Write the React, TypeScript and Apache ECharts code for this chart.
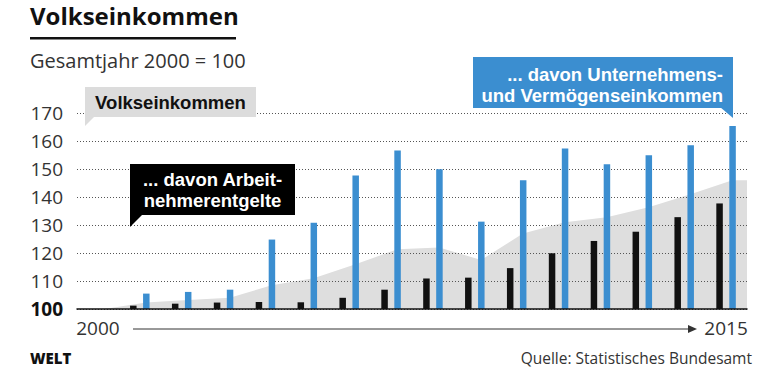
import { useEffect, useRef } from 'react';
import * as echarts from 'echarts';

const years = ['2000', '2001', '2002', '2003', '2004', '2005', '2006', '2007', '2008', '2009', '2010', '2011', '2012', '2013', '2014', '2015'];
const arbeitnehmerentgelte = [null, 101.2, 101.9, 102.3, 102.5, 102.4, 104.0, 106.9, 110.9, 111.2, 114.6, 119.9, 124.3, 127.6, 132.8, 137.7];
const unternehmenseinkommen = [null, 105.5, 106.1, 106.9, 124.8, 130.8, 147.7, 156.6, 149.9, 131.2, 146.0, 157.3, 151.7, 154.9, 158.5, 165.4];
const volkseinkommen = [100, 102.3, 103.2, 104.0, 108.5, 111.0, 116.0, 121.3, 122.0, 117.5, 127.0, 131.0, 132.8, 136.3, 141.0, 146.0];
const yMin = 100;
const yMax = 170;
const yInterval = 10;

const FONT = '"Open Sans", "Noto Sans", sans-serif';
const LABEL_FONT = '"Liberation Sans", Arial, sans-serif';
const BLUE = '#3b8ed0';

export default function App() {
  const ref = useRef<HTMLDivElement>(null);
  useEffect(() => {
    const chart = echarts.init(ref.current!, null, { renderer: 'svg' });
    const areaMin = 1999.35;
    const areaMax = 2015.35;
    const areaData: [number, number][] = volkseinkommen.map((v, i) => [Number(years[i]), v]);
    areaData.push([areaMax, volkseinkommen[volkseinkommen.length - 1]]);

    const label = (text: string, x: number, y: number, align: string, fill: string, size = 18.5) => ({
      type: 'text',
      x,
      y,
      z: 11,
      style: { text, font: `bold ${size}px ${LABEL_FONT}`, lineHeight: size, fill, textAlign: align, textVerticalAlign: 'middle' },
    });

    chart.setOption({
      animation: false,
      backgroundColor: '#fff',
      textStyle: { fontFamily: FONT },
      grid: { left: 77, right: 33, top: 113, bottom: 64 },
      xAxis: [
        {
          type: 'category',
          data: years,
          boundaryGap: true,
          axisLine: { show: true, lineStyle: { color: '#111', width: 1.5 } },
          axisTick: { show: false },
          splitLine: { show: false },
          axisLabel: {
            show: true,
            interval: (i: number) => i === 0 || i === years.length - 1,
            color: '#333',
            fontSize: 19,
            fontFamily: FONT,
            margin: 9,
          },
          z: 3,
        },
        {
          type: 'value',
          min: areaMin,
          max: areaMax,
          show: false,
          gridIndex: 0,
        },
      ],
      yAxis: {
        type: 'value',
        min: yMin,
        max: yMax,
        interval: yInterval,
        startValue: yMin,
        axisLine: { show: false },
        axisTick: { show: false },
        splitLine: { show: true, lineStyle: { color: '#555', width: 1, type: [1, 2] } },
        axisLabel: {
          margin: 14,
          formatter: (v: number) => (v === yMin ? `{b|${v}}` : `{n|${v}}`),
          rich: {
            n: { fontSize: 19, color: '#333', fontFamily: FONT },
            b: { fontSize: 19, color: '#111', fontWeight: 'bold', fontFamily: FONT },
          },
        },
      },
      series: [
        {
          name: 'Volkseinkommen',
          type: 'line',
          xAxisIndex: 1,
          yAxisIndex: 0,
          data: areaData,
          symbol: 'none',
          smooth: false,
          lineStyle: { width: 0, color: '#dedede' },
          areaStyle: { color: '#dedede', opacity: 1 },
          z: -1,
        },
        {
          name: 'Arbeitnehmerentgelte',
          type: 'bar',
          xAxisIndex: 0,
          data: arbeitnehmerentgelte,
          barWidth: 6.5,
          barGap: '100%',
          itemStyle: { color: '#111' },
        },
        {
          name: 'Unternehmens- und Vermögenseinkommen',
          type: 'bar',
          xAxisIndex: 0,
          data: unternehmenseinkommen,
          barWidth: 6.5,
          barGap: '100%',
          itemStyle: { color: BLUE },
        },
      ],
      graphic: [
        {
          type: 'text',
          left: 30,
          top: 3,
          style: { text: 'Volkseinkommen', font: `bold 24px ${FONT}`, fill: '#111' },
        },
        { type: 'rect', shape: { x: 30, y: 37, width: 206, height: 2.5 }, style: { fill: '#111' } },
        {
          type: 'text',
          x: 30,
          y: 60,
          style: { text: 'Gesamtjahr 2000 = 100', font: `20px ${FONT}`, fill: '#333', textVerticalAlign: 'middle' },
        },
        // Volkseinkommen label
        { type: 'rect', shape: { x: 85, y: 87, width: 171, height: 30 }, style: { fill: '#dcdcdc' }, z: 10 },
        { type: 'polygon', shape: { points: [[85, 116], [85, 126], [95, 116]] }, style: { fill: '#dcdcdc' }, z: 10 },
        label('Volkseinkommen', 170.5, 102, 'center', '#111'),
        // Arbeitnehmerentgelte label
        { type: 'rect', shape: { x: 130, y: 164, width: 165, height: 51 }, style: { fill: '#000' }, z: 10 },
        { type: 'polygon', shape: { points: [[130, 214], [130, 227], [143, 214]] }, style: { fill: '#000' }, z: 10 },
        label('... davon Arbeit-', 212.5, 179.5, 'center', '#fff'),
        label('nehmerentgelte', 212.5, 200.5, 'center', '#fff'),
        // Unternehmens label
        { type: 'rect', shape: { x: 473, y: 57, width: 260, height: 51 }, style: { fill: BLUE }, z: 10 },
        { type: 'polygon', shape: { points: [[733, 107], [733, 118], [720, 107]] }, style: { fill: BLUE }, z: 10 },
        label('... davon Unternehmens-', 723, 74, 'right', '#fff'),
        label('und Vermögenseinkommen', 723, 95, 'right', '#fff'),
        // time arrow
        { type: 'line', shape: { x1: 133, y1: 329, x2: 691, y2: 329 }, style: { stroke: '#333', lineWidth: 1 } },
        { type: 'polygon', shape: { points: [[688, 325], [697, 329], [688, 333]] }, style: { fill: '#333' } },
        // footer
        {
          type: 'text',
          x: 30,
          y: 358,
          style: { text: 'WELT', font: `900 15px ${FONT}`, fill: '#111', textVerticalAlign: 'middle' },
        },
        {
          type: 'text',
          x: 752,
          y: 358,
          style: {
            text: 'Quelle: Statistisches Bundesamt',
            font: `15.5px ${FONT}`,
            fill: '#333',
            textAlign: 'right',
            textVerticalAlign: 'middle',
          },
        },
      ],
    });
    return () => chart.dispose();
  }, []);
  return (
    <div
      ref={ref}
      style={{ position: 'fixed', left: 0, top: 0, width: 780, height: 373, background: '#fff' }}
    />
  );
}
